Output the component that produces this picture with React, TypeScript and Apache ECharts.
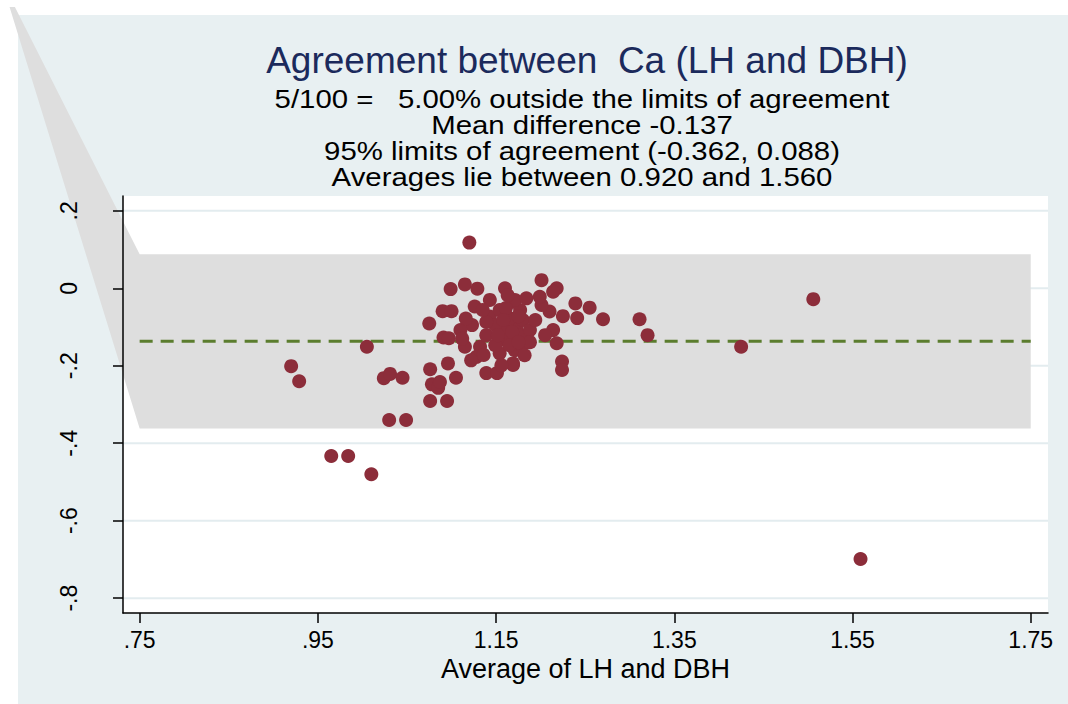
import React, { useEffect, useRef } from "react";
import * as echarts from "echarts";

// ---- data ----
const titleText = "Agreement between  Ca (LH and DBH)";
const subtitleLines = [
  "5/100 =   5.00% outside the limits of agreement",
  "Mean difference -0.137",
  "95% limits of agreement (-0.362, 0.088)",
  "Averages lie between 0.920 and 1.560",
];
const xAxisName = "Average of LH and DBH";

const xTicks = [0.75, 0.95, 1.15, 1.35, 1.55, 1.75];
const xTickLabels = [".75", ".95", "1.15", "1.35", "1.55", "1.75"];
const yTicks = [0.2, 0, -0.2, -0.4, -0.6, -0.8];
const yTickLabels = [".2", "0", "-.2", "-.4", "-.6", "-.8"];

const meanDiff = -0.137;
const lowerLimit = -0.362;
const upperLimit = 0.088;
const meanLineX = [0.75, 1.75];

// shaded limits-of-agreement polygon (includes stray vertex off to the upper left)
const limitsPolyX = [0.604, 0.61, 0.75, 1.75, 1.75, 0.75];
const limitsPolyY = [0.726, 0.726, upperLimit, upperLimit, lowerLimit, lowerLimit];

const averages = [
  0.920, 0.929, 1.005, 0.965, 0.984, 1.010, 1.024, 1.031, 1.045, 1.030,
  1.049, 1.559, 1.506, 1.425, 1.311, 1.320, 1.120, 1.270, 1.255, 1.241,
  1.239, 1.225, 1.210, 1.201, 1.199, 1.201, 1.218, 1.214, 1.214, 1.218,
  1.224, 1.224, 1.099, 1.115, 1.129, 1.160, 1.090, 1.100, 1.075, 1.091,
  1.097, 1.115, 1.076, 1.096, 1.105, 1.078, 1.085, 1.087, 1.076, 1.095,
  1.126, 1.123, 1.132, 1.128, 1.139, 1.151, 1.143, 1.139, 1.154, 1.169,
  1.162, 1.173, 1.154, 1.169, 1.169, 1.184, 1.169, 1.136, 1.149, 1.177,
  1.165, 1.180, 1.160, 1.149, 1.177, 1.188, 1.171, 1.161, 1.184, 1.143,
  1.110, 1.122, 1.171, 1.163, 1.175, 1.179, 1.188, 1.152, 1.165, 1.139,
  1.194, 1.158, 1.168, 1.175, 1.156, 1.116, 1.112, 1.135, 1.182, 1.205,
];
const differences = [
  -0.201, -0.240, -0.151, -0.433, -0.433, -0.480, -0.232, -0.221, -0.231, -0.340,
  -0.340, -0.699, -0.028, -0.151, -0.080, -0.121, 0.118, -0.080, -0.050, -0.077,
  -0.039, -0.072, -0.060, -0.043, -0.022, 0.021, 0.000, -0.009, -0.108, -0.142,
  -0.189, -0.211, -0.002, 0.010, -0.001, 0.000, -0.059, -0.059, -0.091, -0.127,
  -0.129, -0.151, -0.209, -0.194, -0.231, -0.248, -0.257, -0.242, -0.291, -0.291,
  -0.047, -0.095, -0.151, -0.177, -0.219, -0.219, -0.073, -0.121, -0.056, -0.035,
  -0.108, -0.099, -0.168, -0.194, -0.133, -0.125, -0.198, -0.172, -0.095, -0.056,
  -0.077, -0.082, -0.134, -0.147, -0.121, -0.108, -0.030, -0.051, -0.026, -0.030,
  -0.108, -0.186, -0.160, -0.018, -0.072, -0.147, -0.139, -0.121, -0.147, -0.087,
  -0.082, -0.082, -0.113, -0.139, -0.199, -0.078, -0.130, -0.056, -0.173, -0.121,
];

// axis extents (plot region incl. Stata margins)
const xMin = 0.7313;
const xMax = 1.7694;
const yMin = -0.8384;
const yMax = 0.2383;

const FONT = "'Liberation Sans', Arial, sans-serif";

function labelFor(ticks: number[], labels: string[]) {
  return (v: number) => {
    const i = ticks.findIndex((t) => Math.abs(t - v) < 1e-6);
    return i >= 0 ? labels[i] : "";
  };
}

export default function App() {
  const ref = useRef<HTMLDivElement>(null);
  useEffect(() => {
    if (!ref.current) return;
    const chart = echarts.init(ref.current, null, { renderer: "svg" });
    const points = averages.map((a, i) => [a, differences[i]]);
    const option: any = {
      animation: false,
      backgroundColor: "#ffffff",
      graphic: [
        {
          type: "rect",
          z: -5,
          silent: true,
          shape: { x: 18, y: 15, width: 1050, height: 689 },
          style: { fill: "#e8f0f2" },
        },
        {
          type: "text",
          z: 50,
          x: 587,
          y: 60,
          style: {
            text: titleText,
            font: `37px ${FONT}`,
            fill: "#1b2a5c",
            textAlign: "center",
            textVerticalAlign: "middle",
            align: "center",
            verticalAlign: "middle",
          },
        },
        ...subtitleLines.map((t, i) => ({
          type: "text",
          z: 50,
          x: 582,
          y: 99 + i * 26,
          scaleX: 1.13,
          style: {
            text: t,
            font: `26px ${FONT}`,
            fill: "#000000",
            textAlign: "center",
            textVerticalAlign: "middle",
            align: "center",
            verticalAlign: "middle",
          },
        })),
      ],
      grid: {
        left: 123,
        right: 20,
        top: 196,
        bottom: 91,
        show: true,
        backgroundColor: "#ffffff",
        borderWidth: 0,
        z: 0,
      },
      xAxis: {
        type: "value",
        min: xMin,
        max: xMax,
        z: 10,
        name: xAxisName,
        nameLocation: "middle",
        nameGap: 36,
        nameTextStyle: { fontFamily: FONT, fontSize: 27, color: "#000" },
        axisLine: { show: true, onZero: false, lineStyle: { color: "#000", width: 1.5 } },
        axisTick: { show: true, length: 10, customValues: xTicks, lineStyle: { color: "#000", width: 1.5 } },
        axisLabel: {
          customValues: xTicks,
          formatter: labelFor(xTicks, xTickLabels),
          fontFamily: FONT,
          fontSize: 23,
          color: "#000",
          margin: 15,
        },
        splitLine: { show: false },
      },
      yAxis: {
        type: "value",
        min: yMin,
        max: yMax,
        z: 10,
        axisLine: { show: true, onZero: false, lineStyle: { color: "#000", width: 1.5 } },
        axisTick: { show: true, length: 10, customValues: yTicks, lineStyle: { color: "#000", width: 1.5 } },
        axisLabel: {
          customValues: yTicks,
          formatter: labelFor(yTicks, yTickLabels),
          fontFamily: FONT,
          fontSize: 23,
          color: "#000",
          rotate: 90,
          margin: 43,
        },
        splitLine: { show: false },
      },
      series: [
        {
          type: "custom",
          z: 1,
          silent: true,
          data: yTicks.map((v) => [xMin, v]),
          renderItem: (params: any, api: any) => {
            const v = api.value(1);
            const p1 = api.coord([xMin, v]);
            const p2 = api.coord([xMax, v]);
            return {
              type: "line",
              shape: { x1: p1[0], y1: p1[1], x2: p2[0], y2: p2[1] },
              style: { stroke: "#e3ecef", lineWidth: 2 },
            };
          },
        },
        {
          type: "custom",
          z: 2,
          silent: true,
          clip: false,
          data: [[limitsPolyX[2], limitsPolyY[2]]],
          renderItem: (params: any, api: any) => ({
            type: "polygon",
            shape: { points: limitsPolyX.map((x, i) => api.coord([x, limitsPolyY[i]])) },
            style: { fill: "#dedede" },
          }),
        },
        {
          type: "line",
          z: 3,
          silent: true,
          symbol: "none",
          data: meanLineX.map((x) => [x, meanDiff]),
          lineStyle: { color: "#5b7d2e", width: 3, type: [13, 8] },
        },
        {
          type: "scatter",
          z: 4,
          symbol: "circle",
          symbolSize: 14,
          data: points,
          itemStyle: { color: "#8c2d3a", opacity: 1 },
        },
      ],
    };
    chart.setOption(option);
    return () => chart.dispose();
  }, []);
  return (
    <div
      ref={ref}
      style={{ position: "fixed", left: 0, top: 0, width: "1068px", height: "704px" }}
    />
  );
}
